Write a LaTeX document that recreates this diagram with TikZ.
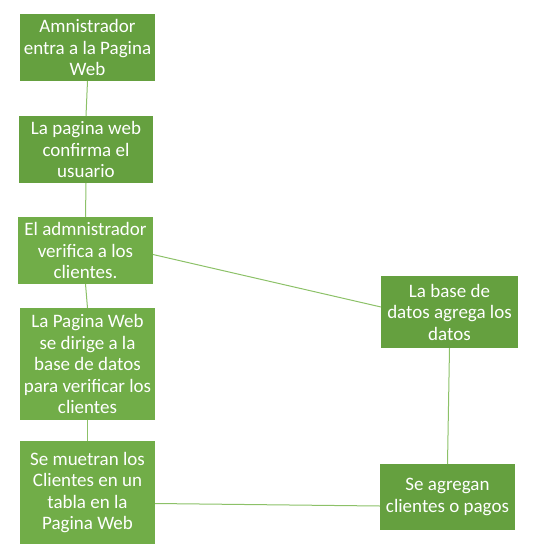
\documentclass[tikz,border=0pt]{standalone}
\usepackage{fontspec}
\setmainfont{Carlito}
\definecolor{verdeosc}{HTML}{65A03F}
\definecolor{verdecla}{HTML}{71AD48}
\definecolor{verdelin}{HTML}{8CC168}
\begin{document}
\begin{tikzpicture}[x=1pt,y=-1pt,inner sep=0pt,outer sep=0pt,
pasobox/.style={rectangle,fill=verdeosc,text=white,align=center,font=\fontsize{19}{21.5}\selectfont},
enlace/.style={draw=verdelin,line width=1pt}]
\useasboundingbox (0,0) rectangle (539,557);
\node[pasobox,minimum width=135pt,minimum height=67pt] (A) at (87.5,47.5) {Amnistrador\\entra a la Pagina\\Web};
\node[pasobox,minimum width=134pt,minimum height=67pt] (B) at (86,149.5) {La pagina web\\confirma el\\usuario};
\node[pasobox,fill=verdecla,minimum width=135pt,minimum height=67pt] (C) at (85.5,250.5) {El admnistrador\\verifica a los\\clientes.};
\node[pasobox,fill=verdecla,minimum width=135pt,minimum height=112pt] (D) at (87.5,364) {La Pagina Web\\se dirige a la\\base de datos\\para verificar los\\clientes};
\node[pasobox,fill=verdecla,minimum width=135pt,minimum height=103pt] (E) at (87.5,492.5) {Se muetran los\\Clientes en un\\tabla en la\\Pagina Web};
\node[pasobox,minimum width=137pt,minimum height=72pt] (F) at (449.5,312) {La base de\\datos agrega los\\datos};
\node[pasobox,minimum width=135pt,minimum height=66pt] (G) at (447.5,497) {Se agregan\\clientes o pagos};
% conexiones
\draw[enlace] (A.south) -- (B.north);
\draw[enlace] (B.south) -- (C.north);
\draw[enlace] (C.south) -- (D.north);
\draw[enlace] (D.south) -- (E.north);
\draw[enlace] ([yshift=-4pt]C.east) -- ([yshift=5pt]F.west);
\draw[enlace] (F.south) -- (G.north);
\draw[enlace] ([yshift=-11pt]E.east) -- ([yshift=-9pt]G.west);
\end{tikzpicture}
\end{document}
